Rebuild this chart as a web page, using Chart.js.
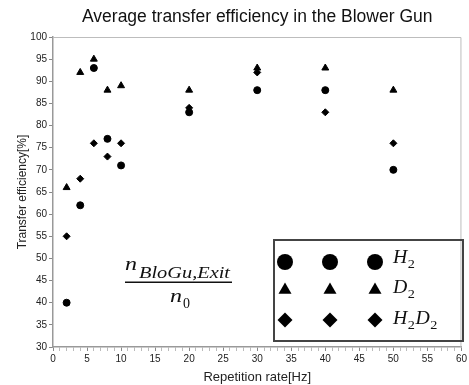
<!DOCTYPE html>
<html>
<head>
<meta charset="utf-8">
<script src="https://cdn.jsdelivr.net/npm/chart.js@4/dist/chart.umd.min.js"></script>
<style>
html, body { margin: 0; padding: 0; background: #fff; }
#wrap { width: 469px; height: 385px; }
</style>
</head>
<body>
<div id="wrap"><canvas id="chart"></canvas></div>
<script>
// repetition rate [Hz] and transfer efficiency [%] per gas
const rates = [2, 4, 6, 8, 10, 20, 30, 40, 50];
const h2 = [40, 62, 93, 77, 71, 83, 88, 88, 70];
const d2 = [66, 92, 95, 88, 89, 88, 93, 93, 88];
const h2d2 = [55, 68, 76, 73, 76, 84, 92, 83, 76];
const seriesNames = ['H2', 'D2', 'H2D2'];
const seriesStyles = ['circle', 'triangle', 'rectRot'];

const SANS = 'Liberation Sans, Arial, sans-serif';
const SERIF = '"Liberation Serif", "DejaVu Serif", serif';

function toPoints(ys) {
    return rates.map((x, i) => ({ x: x, y: ys[i] }));
}

function drawMark(ctx, style, x, y, r) {
    ctx.beginPath();
    if (style === 'circle') {
        ctx.arc(x, y, r, 0, Math.PI * 2);
    } else if (style === 'triangle') {
        const h = r * Math.sqrt(3);
        ctx.moveTo(x, y - r);
        ctx.lineTo(x + h / 2, y + r / 2);
        ctx.lineTo(x - h / 2, y + r / 2);
    } else {
        ctx.moveTo(x, y - r);
        ctx.lineTo(x + r, y);
        ctx.lineTo(x, y + r);
        ctx.lineTo(x - r, y);
    }
    ctx.closePath();
    ctx.fill();
}

// draw text squeezed or stretched to a given width (LaTeX fonts run wide)
function fillWide(ctx, text, x, y, width) {
    const w = ctx.measureText(text).width;
    ctx.save();
    ctx.translate(x, y);
    ctx.scale(width / w, 1);
    ctx.fillText(text, 0, 0);
    ctx.restore();
}

// italic text where digits become subscripts, like the LaTeX labels
function drawMath(ctx, text, x, y, size) {
    for (const ch of text) {
        const sub = /[0-9]/.test(ch);
        const s = sub ? size * 0.72 : size;
        ctx.font = (sub ? '' : 'italic ') + s + 'px ' + SERIF;
        const w = ctx.measureText(ch).width * 1.1;
        fillWide(ctx, ch, x, sub ? y + size * 0.25 : y, w);
        x += w + (sub ? 0.5 : 0.5);
    }
    return x;
}

const extras = {
    id: 'extras',
    afterDraw(chart) {
        const ctx = chart.ctx;
        const a = chart.chartArea;
        ctx.save();
        // light frame on top and right of the plot
        ctx.strokeStyle = '#bdbdbd';
        ctx.lineWidth = 1;
        ctx.beginPath();
        ctx.moveTo(a.left, a.top + 0.5);
        ctx.lineTo(a.right - 0.5, a.top + 0.5);
        ctx.lineTo(a.right - 0.5, a.bottom);
        ctx.stroke();

        // fraction annotation
        ctx.fillStyle = '#111';
        ctx.textBaseline = 'alphabetic';
        ctx.font = 'italic 19px ' + SERIF;
        fillWide(ctx, 'n', 125, 270, 12);
        ctx.font = 'italic 16px ' + SERIF;
        fillWide(ctx, 'BloGu,Exit', 139, 278, 91);
        ctx.fillRect(125, 281.5, 107, 1.5);
        ctx.font = 'italic 19px ' + SERIF;
        fillWide(ctx, 'n', 170, 302, 12);
        ctx.font = '14px ' + SERIF;
        ctx.fillText('0', 183, 308);

        // legend box
        ctx.strokeStyle = '#444';
        ctx.lineWidth = 2;
        ctx.strokeRect(274, 240, 189, 101);
        const rowY = [262, 290, 320];
        const labelY = [263, 293, 324];
        const colX = [285, 330, 375];
        seriesNames.forEach((name, i) => {
            ctx.fillStyle = '#000';
            colX.forEach(cx => drawMark(ctx, seriesStyles[i], cx, rowY[i], i === 0 ? 8 : 7.5));
            ctx.fillStyle = '#111';
            drawMath(ctx, name, 393, labelY[i], 18);
        });
        ctx.restore();
    }
};

const mk = { circle: 3.5, triangle: 4, rectRot: 3.5 };

new Chart(document.getElementById('chart').getContext('2d'), {
    type: 'scatter',
    data: {
        datasets: [
            { label: 'H2', data: toPoints(h2), pointStyle: 'circle', pointRadius: mk.circle },
            { label: 'D2', data: toPoints(d2), pointStyle: 'triangle', pointRadius: mk.triangle },
            { label: 'H2D2', data: toPoints(h2d2), pointStyle: 'rectRot', pointRadius: mk.rectRot }
        ].map(d => Object.assign(d, {
            backgroundColor: '#000',
            borderColor: '#000',
            borderWidth: 1,
            showLine: false
        }))
    },
    options: {
        responsive: true,
        maintainAspectRatio: false,
        animation: false,
        layout: { padding: { left: 0, right: 4, top: 0, bottom: 0 } },
        plugins: {
            legend: { display: false },
            tooltip: { enabled: false },
            title: {
                display: true,
                text: 'Average transfer efficiency in the Blower Gun',
                fullSize: false,
                color: '#111',
                font: { family: SANS, size: 17.5, weight: 'normal' },
                padding: { top: 7, bottom: 9 }
            }
        },
        scales: {
            x: {
                type: 'linear',
                min: 0,
                max: 60,
                grid: {
                    drawOnChartArea: false,
                    drawTicks: true,
                    tickLength: 4,
                    tickColor: ctx => (ctx.tick && ctx.tick.value % 5 === 0) ? '#888' : '#bbb'
                },
                border: { color: '#999', width: 1.5 },
                ticks: {
                    stepSize: 1,
                    autoSkip: false,
                    maxRotation: 0,
                    padding: 2,
                    color: '#222',
                    font: { family: SANS, size: 10 },
                    callback: v => (v % 5 === 0 ? v : '')
                },
                title: {
                    display: true,
                    text: 'Repetition rate[Hz]',
                    color: '#222',
                    font: { family: SANS, size: 13 },
                    padding: { top: 0, bottom: 0 }
                },
                afterFit: s => { s.height = 38; }
            },
            y: {
                min: 30,
                max: 100,
                grid: { drawOnChartArea: false, drawTicks: true, tickLength: 4, tickColor: '#888' },
                border: { color: '#999', width: 1.5 },
                ticks: {
                    stepSize: 5,
                    padding: 2,
                    color: '#222',
                    font: { family: SANS, size: 10 }
                },
                title: {
                    display: true,
                    text: 'Transfer efficiency[%]',
                    color: '#222',
                    font: { family: SANS, size: 12 },
                    padding: { top: 15, bottom: 0 }
                },
                afterFit: s => { s.width = 53; }
            }
        }
    },
    plugins: [extras]
});
</script>
</body>
</html>
